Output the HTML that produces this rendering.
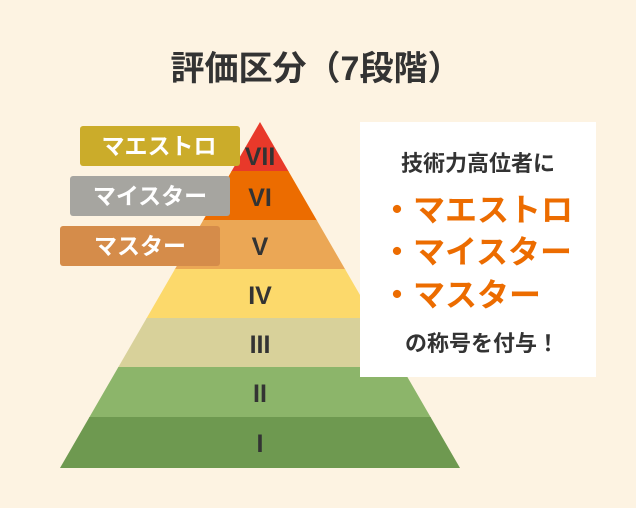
<!DOCTYPE html>
<html><head><meta charset="utf-8"><style>
html,body{margin:0;padding:0;background:#fdf3e2;}
svg{display:block;}
text{font-family:"Liberation Sans","Noto Sans CJK JP",sans-serif;font-weight:bold;}
</style></head><body>
<svg width="636" height="508" viewBox="0 0 636 508" xmlns="http://www.w3.org/2000/svg">
<rect width="636" height="508" fill="#fdf3e2"/>
<text x="316" y="80" font-size="34" fill="#333" text-anchor="middle">評価区分（7段階）</text>
<defs><clipPath id="tri"><polygon points="260,122 460,468 60,468"/></clipPath></defs>
<g clip-path="url(#tri)">
<rect x="0" y="100" width="636" height="72" fill="#e8392a"/>
<rect x="0" y="171" width="636" height="50" fill="#ec6c00"/>
<rect x="0" y="220" width="636" height="50" fill="#eba755"/>
<rect x="0" y="269" width="636" height="50" fill="#fcd96b"/>
<rect x="0" y="318" width="636" height="50" fill="#d8d19a"/>
<rect x="0" y="367" width="636" height="51" fill="#8cb56a"/>
<rect x="0" y="417" width="636" height="51" fill="#6e9950"/>
</g>
<g font-size="25" fill="#333" text-anchor="middle">
<text x="260" y="165">VII</text>
<text x="260" y="206">VI</text>
<text x="260" y="255">V</text>
<text x="260" y="304">IV</text>
<text x="260" y="353">III</text>
<text x="260" y="402">II</text>
<text x="260" y="452">I</text>
</g>
<rect x="80" y="126" width="160" height="40" rx="3" fill="#cbac2a"/>
<rect x="70" y="176" width="160" height="40" rx="3" fill="#a6a5a0"/>
<rect x="60" y="226" width="160" height="40" rx="3" fill="#d58c4a"/>
<g font-size="23" fill="#fff" text-anchor="middle">
<text x="159" y="154">マエストロ</text>
<text x="150" y="204">マイスター</text>
<text x="140" y="254">マスター</text>
</g>
<rect x="360" y="122" width="236" height="255" fill="#fff"/>
<text x="478" y="171" font-size="22" fill="#333" text-anchor="middle">技術力高位者に</text>
<g font-size="32" fill="#ec6c00">
<text x="381" y="221">・マエストロ</text>
<text x="381" y="263">・マイスター</text>
<text x="381" y="306">・マスター</text>
</g>
<text x="482" y="351" font-size="22" fill="#333" text-anchor="middle">の称号を付与！</text>
</svg>
</body></html>
